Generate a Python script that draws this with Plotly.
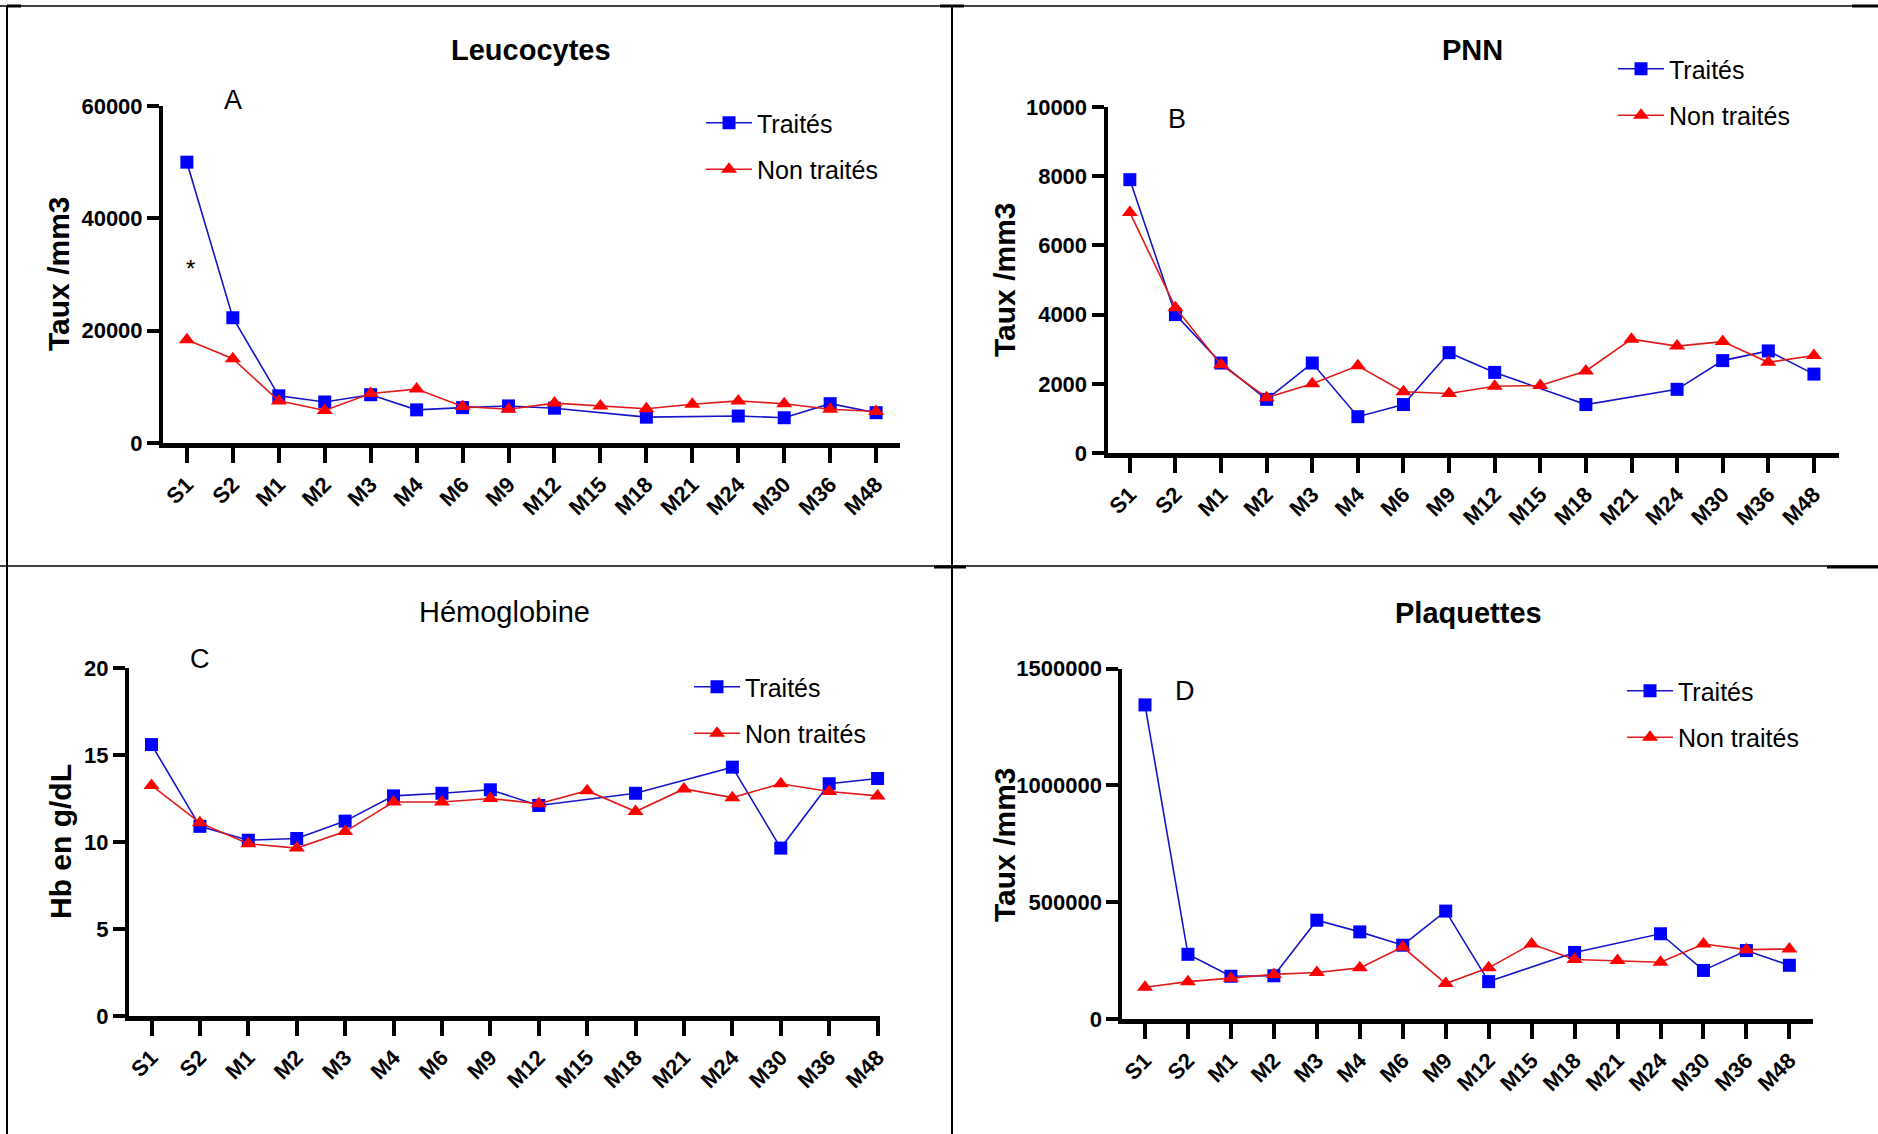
import plotly.graph_objects as go

W, H = 1878, 1134

cats = ["S1", "S2", "M1", "M2", "M3", "M4", "M6", "M9", "M12", "M15",
        "M18", "M21", "M24", "M30", "M36", "M48"]

leuco_traites = [50000, 22300, 8400, 7300, 8600, 5900, 6300, 6600, 6200, None,
                 4600, None, 4800, 4500, 7000, 5400]
leuco_non = [18400, 15000, 7500, 5800, 8800, 9600, 6500, 6000, 7100, 6600,
             6100, 6900, 7500, 7000, 6000, 5600]

pnn_traites = [7900, 4000, 2600, 1550, 2600, 1050, 1400, 2900, 2330, None,
               1400, None, 1840, 2670, 2950, 2280]
pnn_non = [6950, 4200, 2550, 1600, 2000, 2520, 1770, 1720, 1930, 1950,
           2370, 3290, 3090, 3220, 2620, 2820]

hb_traites = [15.6, 10.9, 10.1, 10.2, 11.2, 12.65, 12.8, 13.0, 12.1, None,
              12.8, None, 14.3, 9.65, 13.35, 13.65]
hb_non = [13.25, 11.1, 9.9, 9.65, 10.6, 12.3, 12.3, 12.5, 12.2, 12.95,
          11.75, 13.05, 12.55, 13.35, 12.9, 12.65]

plq_traites = [1345000, 277000, 183000, 185000, 423000, 373000, 316000, 462000,
               160000, None, 285000, None, 365000, 208000, 293000, 230000]
plq_non = [136000, 160000, 175000, 191000, 199000, 219000, 308000, 152000,
           219000, 321000, 255000, 250000, 243000, 321000, 297000, 300000]

leuco_ticks = [0, 20000, 40000, 60000]
pnn_ticks = [0, 2000, 4000, 6000, 8000, 10000]
hb_ticks = [0, 5, 10, 15, 20]
plq_ticks = [0, 500000, 1000000, 1500000]

titles = ["Leucocytes", "PNN", "Hémoglobine", "Plaquettes"]
title_bold = [True, True, False, True]
letters = ["A", "B", "C", "D"]
ytitles = ["Taux /mm3", "Taux /mm3", "Hb en g/dL", "Taux /mm3"]
series_names = ["Traités", "Non traités"]

FONT = "Liberation Sans, Arial, sans-serif"
BLUE = "#0000ff"
BLUE_LINE = "#1414c8"
RED = "#ff0000"
RED_LINE = "#e01a1a"

# panel geometry in pixels
panels = [
    dict(x0=163, x1=900, yb=443, yt=106, rng=[-0.52, 15.52], yr=[0, 60000], ticks=leuco_ticks,
         title=(531, 50), letter=(233, 100), ytitle=(59, 274),
         leg=(701, 100)),
    dict(x0=1107.5, x1=1839, yb=453, yt=107, rng=[-0.49, 15.55], yr=[0, 10000], ticks=pnn_ticks,
         title=(1472, 50), letter=(1177, 119), ytitle=(1004, 280),
         leg=(1613, 46)),
    dict(x0=129, x1=880, yb=1016, yt=668, rng=[-0.465, 15.05], yr=[0, 20], ticks=hb_ticks,
         title=(504, 612), letter=(200, 659), ytitle=(60, 842),
         leg=(689, 664)),
    dict(x0=1122.4, x1=1813, yb=1019, yt=668.7, rng=[-0.526, 15.55], yr=[0, 1500000], ticks=plq_ticks,
         title=(1468, 613), letter=(1185, 691), ytitle=(1004, 845),
         leg=(1622, 668)),
]

data = [(leuco_traites, leuco_non), (pnn_traites, pnn_non),
        (hb_traites, hb_non), (plq_traites, plq_non)]

fig = go.Figure()
annotations = []
layout = dict(width=W, height=H, margin=dict(l=0, r=0, t=0, b=0, pad=0, autoexpand=False),
              paper_bgcolor="white", plot_bgcolor="white",
              font=dict(family=FONT, color="black"))

for i, (p, (tr, nt)) in enumerate(zip(panels, data)):
    k = "" if i == 0 else str(i + 1)
    leg = "legend" + k
    fig.add_trace(go.Scatter(
        x=cats, y=tr, name=series_names[0], mode="lines+markers",
        xaxis="x" + k, yaxis="y" + k, connectgaps=True, legend=leg,
        legendgroup="t" + k, cliponaxis=False,
        line=dict(color=BLUE_LINE, width=1.6),
        marker=dict(symbol="square", size=13, color=BLUE)))
    fig.add_trace(go.Scatter(
        x=cats, y=nt, name=series_names[1], mode="lines+markers",
        xaxis="x" + k, yaxis="y" + k, connectgaps=True, legend=leg,
        legendgroup="n" + k, cliponaxis=False,
        line=dict(color=RED_LINE, width=1.6),
        marker=dict(symbol="triangle-up", size=14, color=RED)))

    layout["xaxis" + k] = dict(
        domain=[p["x0"] / W, p["x1"] / W], anchor="y" + k, type="category",
        range=p["rng"], showline=True, linecolor="black", linewidth=5,
        ticks="outside", ticklen=15, tickwidth=4, tickcolor="black",
        tickangle=-45, showgrid=False, zeroline=False, automargin=False,
        tickfont=dict(family=FONT, size=22, weight="bold", color="black"))
    layout["yaxis" + k] = dict(
        domain=[1 - p["yb"] / H, 1 - p["yt"] / H], anchor="x" + k,
        range=p["yr"], showline=True, linecolor="black", linewidth=4,
        ticks="outside", ticklen=12, tickwidth=4, tickcolor="black",
        tickvals=p["ticks"], tickformat="d", showgrid=False, zeroline=False,
        automargin=False,
        tickfont=dict(family=FONT, size=22, weight="bold", color="black"))
    layout[leg] = dict(
        x=p["leg"][0] / W, y=1 - p["leg"][1] / H, xanchor="left", yanchor="top",
        bgcolor="rgba(0,0,0,0)", borderwidth=0, itemwidth=46,
        tracegroupgap=11, font=dict(family=FONT, size=25, color="black"))

    annotations.append(dict(
        text=titles[i], x=p["title"][0] / W, y=1 - p["title"][1] / H, xref="paper", yref="paper",
        showarrow=False, xanchor="center", yanchor="middle",
        font=dict(family=FONT, size=29, weight="bold" if title_bold[i] else "normal")))
    annotations.append(dict(
        text=letters[i], x=p["letter"][0] / W, y=1 - p["letter"][1] / H,
        xref="paper", yref="paper", showarrow=False, xanchor="center", yanchor="middle",
        font=dict(family=FONT, size=27)))
    annotations.append(dict(
        text=ytitles[i], x=p["ytitle"][0] / W, y=1 - p["ytitle"][1] / H,
        xref="paper", yref="paper", showarrow=False, xanchor="center", yanchor="middle",
        textangle=-90, font=dict(family=FONT, size=30, weight="bold")))

annotations.append(dict(text="*", x=190 / W, y=1 - 268 / H, xref="paper", yref="paper",
                        showarrow=False, xanchor="center", yanchor="middle",
                        font=dict(family=FONT, size=24)))

def hline(x0, x1, y, w):
    return dict(type="line", xref="paper", yref="paper", x0=x0 / W, x1=x1 / W,
                y0=1 - y / H, y1=1 - y / H, line=dict(color="black", width=w))

def vline(x, y0, y1, w):
    return dict(type="line", xref="paper", yref="paper", x0=x / W, x1=x / W,
                y0=1 - y0 / H, y1=1 - y1 / H, line=dict(color="black", width=w))

shapes = [
    hline(0, W, 6, 1.5),
    vline(7, 6, H, 2),
    vline(952, 6, H, 2),
    hline(0, W, 566, 1.5),
    hline(7, 21, 6, 3),
    hline(940, 964, 6, 3),
    hline(1852, W, 6, 3),
    hline(934, 966, 567, 3),
    hline(1827, W, 567, 3),
]

layout["annotations"] = annotations
layout["shapes"] = shapes
fig.update_layout(**layout)

fig.write_html("out.html", config={"displayModeBar": False},
               post_script="document.body.style.margin='0';document.body.style.overflow='hidden';")
